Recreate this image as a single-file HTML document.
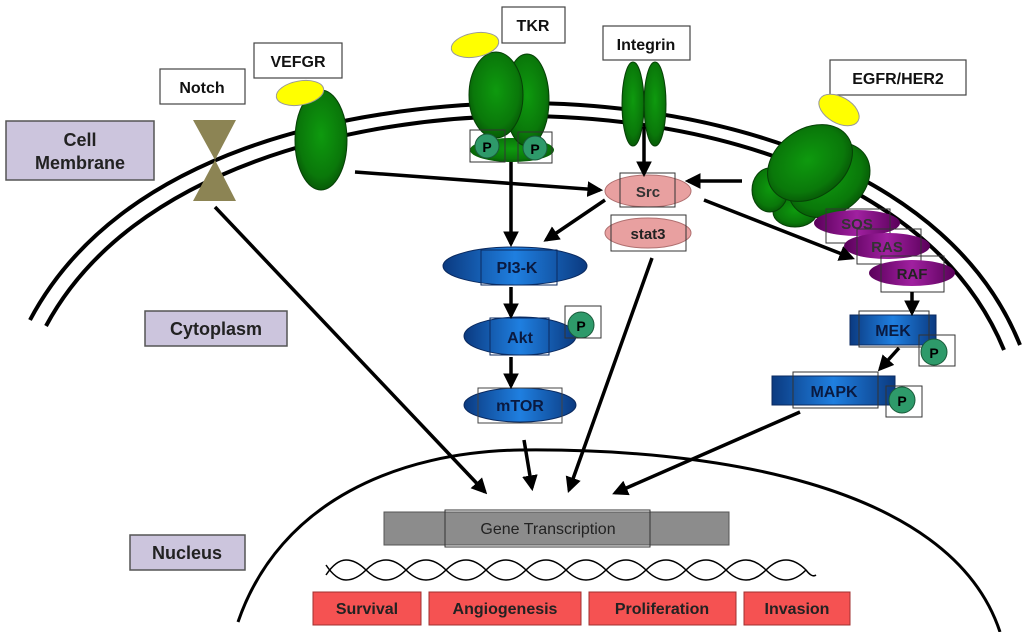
<!DOCTYPE html>
<html><head><meta charset="utf-8"><style>
html,body{margin:0;padding:0;background:#fff;}
svg{display:block;}
text{font-family:"Liberation Sans",sans-serif;font-weight:bold;}
</style></head><body>
<svg width="1024" height="632" viewBox="0 0 1024 632" xmlns="http://www.w3.org/2000/svg">
<defs>
<radialGradient id="gr" cx="50%" cy="45%" r="60%"><stop offset="0" stop-color="#0e9a0e"/><stop offset="0.7" stop-color="#0a780a"/><stop offset="1" stop-color="#065006"/></radialGradient>
<linearGradient id="bl" x1="0" x2="1" y1="0" y2="0"><stop offset="0" stop-color="#0b3a80"/><stop offset="0.5" stop-color="#1f7fe0"/><stop offset="1" stop-color="#0b3a80"/></linearGradient>
<linearGradient id="pu" x1="0" x2="1"><stop offset="0" stop-color="#5a005a"/><stop offset="0.5" stop-color="#a020a0"/><stop offset="1" stop-color="#5a005a"/></linearGradient>
<marker id="ah" viewBox="0 0 10 10" refX="8" refY="5" markerWidth="4.5" markerHeight="4.5" orient="auto"><path d="M0,0 L10,5 L0,10 z" fill="#000"/></marker>
</defs>

<!-- membrane -->
<path d="M30 320 C120 150 350 105 520 103 C720 103 950 170 1020 345" fill="none" stroke="#000" stroke-width="4"/>
<path d="M46 326 C132 166 360 117 520 116 C715 116 935 182 1004 350" fill="none" stroke="#000" stroke-width="4"/>
<!-- nucleus -->
<path d="M238 622 C280 500 400 452 520 450 C700 448 950 480 1000 632" fill="none" stroke="#000" stroke-width="3"/>

<!-- labels lavender -->
<rect x="6" y="121" width="148" height="59" fill="#ccc5dd" stroke="#555" stroke-width="1.5"/>
<text x="80" y="146" font-size="18" text-anchor="middle" fill="#222">Cell</text>
<text x="80" y="169" font-size="18" text-anchor="middle" fill="#222">Membrane</text>
<rect x="145" y="311" width="142" height="35" fill="#ccc5dd" stroke="#555" stroke-width="1.5"/>
<text x="216" y="335" font-size="18" text-anchor="middle" fill="#222">Cytoplasm</text>
<rect x="130" y="535" width="115" height="35" fill="#ccc5dd" stroke="#555" stroke-width="1.5"/>
<text x="187" y="559" font-size="18" text-anchor="middle" fill="#222">Nucleus</text>

<!-- receptor name boxes -->
<g fill="#fff" stroke="#444" stroke-width="1.2">
<rect x="160" y="69" width="85" height="35"/><rect x="254" y="43" width="88" height="35"/>
<rect x="502" y="7" width="63" height="36"/><rect x="603" y="26" width="87" height="34"/>
<rect x="830" y="60" width="136" height="35"/></g>
<g font-size="16" fill="#111" text-anchor="middle">
<text x="202" y="93">Notch</text><text x="298" y="67">VEFGR</text><text x="533" y="31">TKR</text>
<text x="646" y="50">Integrin</text><text x="898" y="84">EGFR/HER2</text></g>

<!-- Notch -->
<path d="M193 120 L236 120 L215 160 L236 201 L193 201 L215 160 z" fill="#8c8454"/>

<!-- VEFGR -->
<ellipse cx="321" cy="140" rx="26" ry="50" fill="url(#gr)" stroke="#064006"/>
<ellipse cx="300" cy="93" rx="24" ry="12" transform="rotate(-10 300 93)" fill="#ffff00" stroke="#999" />

<!-- TKR -->
<ellipse cx="512" cy="150" rx="42" ry="12" fill="url(#gr)"/>
<ellipse cx="527" cy="100" rx="22" ry="46" fill="url(#gr)" stroke="#064006"/>
<ellipse cx="496" cy="95" rx="27" ry="43" fill="url(#gr)" stroke="#064006"/>
<ellipse cx="475" cy="45" rx="24" ry="12" transform="rotate(-10 475 45)" fill="#ffff00" stroke="#999"/>
<circle cx="487" cy="146" r="12" fill="#2e9a6a" stroke="#1a5a3a"/><circle cx="535" cy="148" r="12" fill="#2e9a6a" stroke="#1a5a3a"/>
<rect x="470" y="130" width="35" height="32" fill="none" stroke="#333"/><rect x="518" y="132" width="34" height="31" fill="none" stroke="#333"/>
<text x="487" y="152" font-size="14" text-anchor="middle">P</text><text x="535" y="154" font-size="14" text-anchor="middle">P</text>

<!-- Integrin -->
<ellipse cx="633" cy="104" rx="11" ry="42" fill="url(#gr)" stroke="#064006"/>
<ellipse cx="655" cy="104" rx="11" ry="42" fill="url(#gr)" stroke="#064006"/>

<!-- EGFR -->
<ellipse cx="795" cy="212" rx="22" ry="15" fill="url(#gr)" stroke="#064006"/>
<ellipse cx="770" cy="190" rx="18" ry="22" fill="url(#gr)" stroke="#064006"/>
<ellipse cx="829" cy="180" rx="44" ry="34" transform="rotate(-35 829 180)" fill="url(#gr)" stroke="#064006"/>
<ellipse cx="810" cy="163" rx="46" ry="34" transform="rotate(-35 810 163)" fill="url(#gr)" stroke="#064006"/>
<ellipse cx="839" cy="110" rx="22" ry="13" transform="rotate(30 839 110)" fill="#ffff00" stroke="#999"/>

<!-- Src / stat3 -->
<ellipse cx="648" cy="191" rx="43" ry="16" fill="#e8a0a0" stroke="#b07070"/>
<rect x="620" y="173" width="55" height="34" fill="none" stroke="#333"/>
<text x="648" y="197" font-size="15" text-anchor="middle" fill="#333">Src</text>
<ellipse cx="648" cy="233" rx="43" ry="15" fill="#e8a0a0" stroke="#b07070"/>
<rect x="611" y="215" width="75" height="36" fill="none" stroke="#333"/>
<text x="648" y="239" font-size="15" text-anchor="middle" fill="#222">stat3</text>

<!-- SOS RAS RAF -->
<ellipse cx="857" cy="223" rx="43" ry="13" fill="url(#pu)"/>
<rect x="826" y="209" width="64" height="34" fill="none" stroke="#333"/>
<text x="857" y="229" font-size="15" text-anchor="middle" fill="#333">SOS</text>
<ellipse cx="887" cy="246" rx="43" ry="13" fill="url(#pu)"/>
<rect x="857" y="229" width="64" height="35" fill="none" stroke="#333"/>
<text x="887" y="252" font-size="15" text-anchor="middle" fill="#333">RAS</text>
<ellipse cx="912" cy="273" rx="43" ry="13" fill="url(#pu)"/>
<rect x="881" y="256" width="63" height="36" fill="none" stroke="#333"/>
<text x="912" y="279" font-size="15" text-anchor="middle" fill="#222">RAF</text>

<!-- PI3K Akt mTOR -->
<ellipse cx="515" cy="266" rx="72" ry="19" fill="url(#bl)" stroke="#0a2a60"/>
<rect x="481" y="250" width="76" height="35" fill="none" stroke="#0a2a60"/>
<text x="517" y="273" font-size="16" text-anchor="middle" fill="#0a1a40">PI3-K</text>
<ellipse cx="520" cy="336" rx="56" ry="19" fill="url(#bl)" stroke="#0a2a60"/>
<rect x="490" y="318" width="59" height="37" fill="none" stroke="#0a2a60"/>
<text x="520" y="343" font-size="16" text-anchor="middle" fill="#0a1a40">Akt</text>
<circle cx="581" cy="325" r="13" fill="#2e9a6a" stroke="#1a5a3a"/>
<rect x="565" y="306" width="36" height="32" fill="none" stroke="#333"/>
<text x="581" y="331" font-size="14" text-anchor="middle">P</text>
<ellipse cx="520" cy="405" rx="56" ry="17" fill="url(#bl)" stroke="#0a2a60"/>
<rect x="478" y="388" width="84" height="35" fill="none" stroke="#444"/>
<text x="520" y="411" font-size="16" text-anchor="middle" fill="#0a1a40">mTOR</text>

<!-- MEK MAPK -->
<rect x="850" y="315" width="86" height="30" fill="url(#bl)" stroke="#0a2a60"/>
<rect x="859" y="311" width="70" height="36" fill="none" stroke="#333"/>
<text x="893" y="336" font-size="16" text-anchor="middle" fill="#0a1a40">MEK</text>
<circle cx="934" cy="352" r="13" fill="#2e9a6a" stroke="#1a5a3a"/>
<rect x="919" y="335" width="36" height="31" fill="none" stroke="#333"/>
<text x="934" y="358" font-size="14" text-anchor="middle">P</text>
<rect x="772" y="376" width="123" height="29" fill="url(#bl)" stroke="#0a2a60"/>
<rect x="793" y="372" width="85" height="36" fill="none" stroke="#333"/>
<text x="834" y="397" font-size="16" text-anchor="middle" fill="#0a1a40">MAPK</text>
<circle cx="902" cy="400" r="13" fill="#2e9a6a" stroke="#1a5a3a"/>
<rect x="886" y="386" width="36" height="31" fill="none" stroke="#333"/>
<text x="902" y="406" font-size="14" text-anchor="middle">P</text>

<!-- arrows -->
<g stroke="#000" stroke-width="3.5" fill="none" marker-end="url(#ah)">
<line x1="355" y1="172" x2="600" y2="190"/>
<line x1="742" y1="181" x2="688" y2="181"/>
<line x1="644" y1="127" x2="644" y2="174"/>
<line x1="511" y1="162" x2="511" y2="244"/>
<line x1="605" y1="200" x2="546" y2="240"/>
<line x1="704" y1="200" x2="852" y2="258"/>
<line x1="511" y1="287" x2="511" y2="316"/>
<line x1="511" y1="357" x2="511" y2="386"/>
<line x1="912" y1="292" x2="912" y2="313"/>
<line x1="899" y1="348" x2="880" y2="369"/>
<line x1="215" y1="207" x2="485" y2="492"/>
<line x1="524" y1="440" x2="532" y2="488"/>
<line x1="652" y1="258" x2="569" y2="490"/>
<line x1="800" y1="412" x2="615" y2="493"/>
</g>

<!-- gene transcription -->
<rect x="384" y="512" width="345" height="33" fill="#8c8c8c" stroke="#555"/>
<rect x="445" y="510" width="205" height="37" fill="none" stroke="#333"/>
<text x="548" y="534" font-size="16" text-anchor="middle" fill="#222" style="font-weight:normal">Gene Transcription</text>

<!-- DNA -->
<g fill="none" stroke="#000" stroke-width="1.5">
<path d="M326 575 Q336 560 346 560 Q356 560 366 570 Q376 580 386 580 Q396 580 406 570 Q416 560 426 560 Q436 560 446 570 Q456 580 466 580 Q476 580 486 570 Q496 560 506 560 Q516 560 526 570 Q536 580 546 580 Q556 580 566 570 Q576 560 586 560 Q596 560 606 570 Q616 580 626 580 Q636 580 646 570 Q656 560 666 560 Q676 560 686 570 Q696 580 706 580 Q716 580 726 570 Q736 560 746 560 Q756 560 766 570 Q776 580 786 580 Q796 580 806 570"/>
<path d="M326 565 Q336 580 346 580 Q356 580 366 570 Q376 560 386 560 Q396 560 406 570 Q416 580 426 580 Q436 580 446 570 Q456 560 466 560 Q476 560 486 570 Q496 580 506 580 Q516 580 526 570 Q536 560 546 560 Q556 560 566 570 Q576 580 586 580 Q596 580 606 570 Q616 560 626 560 Q636 560 646 570 Q656 580 666 580 Q676 580 686 570 Q696 560 706 560 Q716 560 726 570 Q736 580 746 580 Q756 580 766 570 Q776 560 786 560 Q796 560 806 570 Q812 578 816 575"/>
</g>

<!-- outcomes -->
<g fill="#f55252" stroke="#a03030">
<rect x="313" y="592" width="108" height="33"/><rect x="429" y="592" width="152" height="33"/>
<rect x="589" y="592" width="147" height="33"/><rect x="744" y="592" width="106" height="33"/></g>
<g font-size="16" fill="#222" text-anchor="middle">
<text x="367" y="614">Survival</text><text x="505" y="614">Angiogenesis</text>
<text x="662" y="614">Proliferation</text><text x="797" y="614">Invasion</text></g>
</svg>
</body></html>
